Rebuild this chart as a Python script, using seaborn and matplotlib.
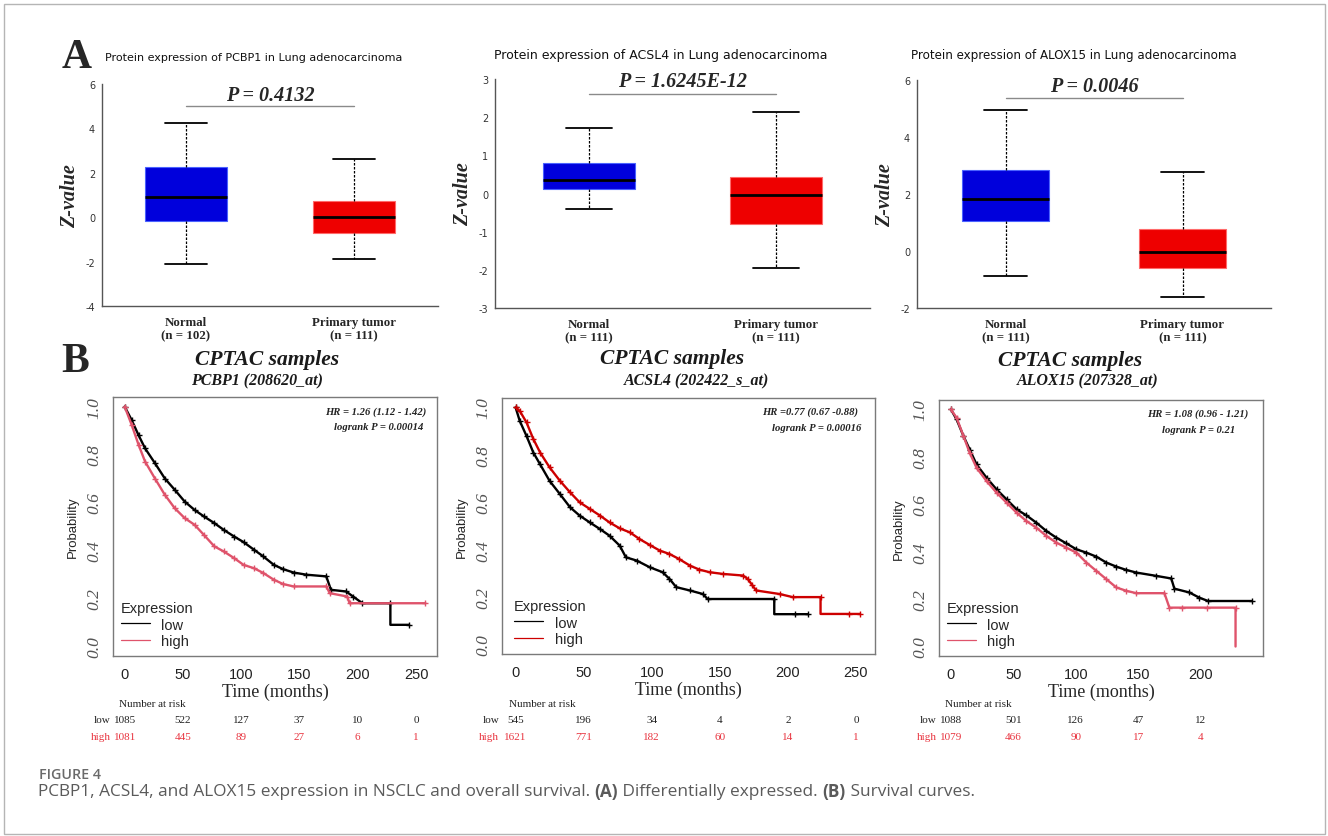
import matplotlib
matplotlib.use("Agg")
import matplotlib.pyplot as plt
import matplotlib.transforms as mtransforms
from matplotlib.lines import Line2D
from matplotlib.patches import Rectangle
import seaborn as sns
import pandas as pd

# ---- data: protein expression box summaries (min, q1, median, q3, max) ----
genes = ["PCBP1", "ACSL4", "ALOX15"]
normal_n = [102, 111, 111]
tumor_n = [111, 111, 111]
pcbp1_normal = [-2.1, -0.16, 0.93, 2.28, 4.25]
pcbp1_tumor = [-1.9, -0.70, 0.0, 0.72, 2.63]
acsl4_normal = [-0.41, 0.11, 0.36, 0.79, 1.71]
acsl4_tumor = [-1.94, -0.79, -0.03, 0.43, 2.13]
alox15_normal = [-0.89, 1.07, 1.83, 2.84, 4.94]
alox15_tumor = [-1.62, -0.58, -0.04, 0.76, 2.78]
p_values = ["P = 0.4132", "P = 1.6245E-12", "P = 0.0046"]

# ---- data: Kaplan-Meier curves ----
probes = ["PCBP1 (208620_at)", "ACSL4 (202422_s_at)", "ALOX15 (207328_at)"]
hr_text = ["HR = 1.26 (1.12 - 1.42)", "HR =0.77 (0.67 -0.88)", "HR = 1.08 (0.96 - 1.21)"]
logrank_text = ["logrank P = 0.00014", "logrank P = 0.00016", "logrank P = 0.21"]

pcbp1_low_t = [0, 6, 12, 17.5, 26, 34.5, 43, 51.5, 60, 68, 77, 85, 94, 102, 111, 119, 128, 136, 145, 156,
               173, 177, 190, 196, 204, 228, 228, 244]
pcbp1_low_s = [1.0, 0.944, 0.88, 0.826, 0.764, 0.70, 0.653, 0.604, 0.569, 0.542, 0.514, 0.486, 0.458, 0.435,
               0.403, 0.375, 0.34, 0.322, 0.308, 0.299, 0.292, 0.236, 0.229, 0.208, 0.18, 0.18, 0.09, 0.09]
pcbp1_high_t = [0, 6, 12, 17.5, 26, 34.5, 43, 51.5, 60, 68, 77, 85, 94, 102, 111, 119, 128, 136, 145, 173,
                176, 191, 193, 258]
pcbp1_high_s = [1.0, 0.924, 0.84, 0.771, 0.70, 0.632, 0.576, 0.535, 0.507, 0.465, 0.417, 0.396, 0.368, 0.34,
                0.326, 0.306, 0.278, 0.26, 0.25, 0.25, 0.222, 0.208, 0.18, 0.18]

acsl4_low_t = [0, 3, 8, 13, 18, 25, 32.5, 40, 47, 54.5, 62, 69, 76.5, 81, 89, 98.5, 108, 113, 118, 128,
               137.6, 141, 190, 190, 205, 214.5]
acsl4_low_s = [1.0, 0.944, 0.88, 0.81, 0.76, 0.69, 0.635, 0.579, 0.544, 0.515, 0.487, 0.459, 0.417, 0.368,
               0.354, 0.326, 0.305, 0.277, 0.242, 0.228, 0.213, 0.192, 0.192, 0.128, 0.128, 0.128]
acsl4_high_t = [0, 3, 8, 13, 18, 25, 32.5, 40, 47, 54.5, 62, 69, 76.5, 84, 91, 98.5, 106, 113, 120, 128,
                135, 142.5, 152, 167, 170.5, 174, 176.7, 194, 203.5, 224, 224, 245, 253]
acsl4_high_s = [1.0, 0.986, 0.937, 0.867, 0.81, 0.747, 0.691, 0.642, 0.60, 0.572, 0.544, 0.515, 0.49, 0.473,
                0.445, 0.42, 0.396, 0.382, 0.361, 0.333, 0.316, 0.305, 0.298, 0.291, 0.277, 0.249, 0.228,
                0.213, 0.2, 0.2, 0.129, 0.129, 0.129]

alox15_low_t = [0, 4.5, 10, 15, 20.5, 28.5, 36.5, 44.5, 52.5, 60.5, 68.5, 76.5, 84.5, 92.5, 100.5, 108.5,
                116.5, 124.5, 132.5, 140.5, 148.5, 164.5, 176.5, 179, 191, 199, 206, 241]
alox15_low_s = [1.0, 0.958, 0.888, 0.831, 0.768, 0.712, 0.663, 0.621, 0.579, 0.553, 0.522, 0.487, 0.459,
                0.435, 0.41, 0.396, 0.379, 0.354, 0.337, 0.323, 0.312, 0.298, 0.287, 0.244, 0.228, 0.206,
                0.192, 0.192]
alox15_high_t = [0, 4.5, 10, 15, 20.5, 28.5, 36.5, 44.5, 52.5, 60.5, 68.5, 76.5, 84.5, 92.5, 100.5, 108.5,
                 116.5, 124.5, 132.5, 140.5, 148.5, 171, 175, 185, 205, 228, 228]
alox15_high_s = [1.0, 0.965, 0.888, 0.817, 0.754, 0.698, 0.649, 0.607, 0.565, 0.529, 0.501, 0.466, 0.438,
                 0.417, 0.396, 0.354, 0.319, 0.284, 0.249, 0.235, 0.225, 0.225, 0.164, 0.164, 0.164, 0.164, 0.0]

# number at risk
risk_times = [[0, 50, 100, 150, 200, 250], [0, 50, 100, 150, 200, 250], [0, 50, 100, 150, 200]]
risk_low = [[1085, 522, 127, 37, 10, 0], [545, 196, 34, 4, 2, 0], [1088, 501, 126, 47, 12]]
risk_high = [[1081, 445, 89, 27, 6, 1], [1621, 771, 182, 60, 14, 1], [1079, 466, 90, 17, 4]]

caption_parts = [("PCBP1, ACSL4, and ALOX15 expression in NSCLC and overall survival. ", False),
                 ("(A)", True), (" Differentially expressed. ", False), ("(B)", True),
                 (" Survival curves.", False)]

# ---- style ----
sns.set_theme(style="white")
plt.rcParams["font.family"] = ["DejaVu Sans"]
SERIF = "Liberation Serif"
SANS = "Liberation Sans"
BLUE = "#0000dc"
RED = "#ee0000"

W, H = 1328, 837
fig = plt.figure(figsize=(W / 100, H / 100), dpi=100)
fig.patch.set_facecolor("white")


def px_axes(x0, y0, x1, y1):
    return fig.add_axes([x0 / W, 1 - y1 / H, (x1 - x0) / W, (y1 - y0) / H])


def box_panel(ax, normal, tumor, n_norm, n_tum, ylim, yticks, ptxt, pline_y, ptxt_y):
    stats = [dict(whislo=normal[0], q1=normal[1], med=normal[2], q3=normal[3], whishi=normal[4], fliers=[]),
             dict(whislo=tumor[0], q1=tumor[1], med=tumor[2], q3=tumor[3], whishi=tumor[4], fliers=[])]
    res = ax.bxp(stats, positions=[0, 1], widths=0.49, capwidths=0.245, patch_artist=True,
                 showfliers=False,
                 whiskerprops=dict(color="black", lw=0.9, linestyle=(0, (2, 1.2))),
                 capprops=dict(color="black", lw=1.3),
                 medianprops=dict(color="black", lw=2))
    for patch, fc, ec in zip(res["boxes"], [BLUE, RED], ["#4a62ff", "#ff6a6a"]):
        patch.set_facecolor(fc)
        patch.set_edgecolor(ec)
        patch.set_linewidth(0.8)
    ax.set_xlim(-0.5, 1.5)
    ax.set_ylim(*ylim)
    ax.set_yticks(yticks)
    ax.set_yticklabels([str(v) for v in yticks])
    ax.set_xticks([0, 1])
    ax.set_xticklabels([f"Normal\n(n = {n_norm})", f"Primary tumor\n(n = {n_tum})"],
                       fontfamily=SERIF, fontweight="bold", fontsize=9.3)
    ax.set_xticks([-0.5, 0.5, 1.5], minor=True)
    ax.tick_params(axis="x", which="major", length=0, pad=7)
    ax.tick_params(axis="x", which="minor", length=4, width=1.2, color="#a8c2e4")
    ax.tick_params(axis="y", length=3, width=0.8, color="#555555", labelsize=7, labelcolor="#333333", pad=2)
    for side in ["top", "right"]:
        ax.spines[side].set_visible(False)
    for side in ["left", "bottom"]:
        ax.spines[side].set_color("#555555")
        ax.spines[side].set_linewidth(1.0)
    ax.set_ylabel("Z-value", fontfamily=SERIF, fontweight="bold", fontstyle="italic", fontsize=14.5,
                  labelpad=4)
    ax.plot([0, 1], [pline_y, pline_y], color="#8a8a8a", lw=1.0)
    ax.text(0.5, ptxt_y, ptxt, ha="center", va="center", fontfamily=SERIF, fontweight="bold",
            fontstyle="italic", fontsize=14.5)
    ax.set_facecolor("white")


def km_panel(ax, low_t, low_s, high_t, high_s, high_color, xlim, xticks, hr, lr, hr_x, lr_x,
             leg_x, rt, rl, rh):
    for t, s, c in [(low_t, low_s, "black"), (high_t, high_s, high_color)]:
        df = pd.DataFrame({"time": t, "surv": s})
        keep = [i for i in range(len(t)) if not (i > 0 and t[i] == t[i - 1])]
        sns.lineplot(data=df, x="time", y="surv", ax=ax, color=c, estimator=None, sort=False, lw=1.7,
                     marker="+", markersize=5, markeredgewidth=1.0, markeredgecolor=c, markevery=keep)
    ax.set_xlim(*xlim)
    ax.set_ylim(-0.04, 1.04)
    ax.set_xticks(xticks)
    ax.set_xticklabels([str(v) for v in xticks], fontfamily=SANS, fontsize=10.5, color="#222222")
    ax.set_yticks([0, 0.2, 0.4, 0.6, 0.8, 1.0])
    ax.set_yticklabels(["0.0", "0.2", "0.4", "0.6", "0.8", "1.0"], fontfamily=SERIF, fontstyle="italic",
                       fontsize=12.5, color="#555555", rotation=90, va="center")
    ax.tick_params(axis="both", length=5, width=0.9, color="#777777", direction="out")
    ax.tick_params(axis="x", pad=3)
    ax.tick_params(axis="y", pad=3)
    for sp in ax.spines.values():
        sp.set_visible(True)
        sp.set_color("#7a7a7a")
        sp.set_linewidth(1.0)
    ax.set_xlabel("Time (months)", fontfamily=SERIF, fontsize=13, labelpad=1)
    ax.set_ylabel("Probability", fontfamily=SANS, fontsize=9.5, labelpad=5)
    ax.text(hr_x, 0.947, hr, transform=ax.transAxes, ha="center", va="center", fontfamily=SERIF,
            fontweight="bold", fontstyle="italic", fontsize=7.7, color="#222222")
    ax.text(lr_x, 0.886, lr, transform=ax.transAxes, ha="center", va="center", fontfamily=SERIF,
            fontweight="bold", fontstyle="italic", fontsize=7.7, color="#222222")
    handles = [Line2D([], [], color="black", lw=0.9), Line2D([], [], color=high_color, lw=0.9)]
    leg = ax.legend(handles, ["low", "high"], title="Expression", loc="lower left",
                    bbox_to_anchor=(leg_x, 0.015), frameon=False, title_fontsize=10.5,
                    handlelength=2.0, handletextpad=0.8, labelspacing=0.15, borderpad=0.3,
                    borderaxespad=0.0, prop={"family": SANS, "size": 10.5})
    leg.get_title().set_fontfamily(SANS)
    leg._legend_box.align = "left"
    # number at risk table
    bt = mtransforms.blended_transform_factory(ax.transData, fig.transFigure)
    ba = mtransforms.blended_transform_factory(ax.transAxes, fig.transFigure)
    ax.text(0.02, 1 - 705 / H, "Number at risk", transform=ba, ha="left", va="center", fontfamily=SERIF,
            fontsize=8, color="#222222", clip_on=False)
    for y, name, vals, col in [(721, "low", rl, "#222222"), (738, "high", rh, "#e8333e")]:
        ax.text(-0.008, 1 - y / H, name, transform=ba, ha="right", va="center", fontfamily=SERIF,
                fontsize=8, color=col, clip_on=False)
        for tx, v in zip(rt, vals):
            ax.text(tx, 1 - y / H, str(v), transform=bt, ha="center", va="center", fontfamily=SERIF,
                    fontsize=8, color=col, clip_on=False)


# ---- panel A ----
axA1 = px_axes(102, 85, 438, 307)
box_panel(axA1, pcbp1_normal, pcbp1_tumor, normal_n[0], tumor_n[0], (-4, 6), [-4, -2, 0, 2, 4, 6],
          p_values[0], 5.03, 5.5)
axA2 = px_axes(495, 80, 870, 309)
box_panel(axA2, acsl4_normal, acsl4_tumor, normal_n[1], tumor_n[1], (-3, 3), [-3, -2, -1, 0, 1, 2, 3],
          p_values[1], 2.62, 2.95)
axA3 = px_axes(917, 81, 1271, 309)
box_panel(axA3, alox15_normal, alox15_tumor, normal_n[2], tumor_n[2], (-2, 6), [-2, 0, 2, 4, 6],
          p_values[2], 5.38, 5.79)

for cx, cy, g, fs in [(254, 58, genes[0], 8.0), (661, 55, genes[1], 9.0), (1074, 55, genes[2], 8.6)]:
    fig.text(cx / W, 1 - cy / H, f"Protein expression of {g} in Lung adenocarcinoma", ha="center",
             va="center", fontsize=fs, color="#111111", family="DejaVu Sans")

# ---- panel B ----
axB1 = px_axes(113, 398, 437, 657)
km_panel(axB1, pcbp1_low_t, pcbp1_low_s, pcbp1_high_t, pcbp1_high_s, "#df536b", (-10, 268),
         [0, 50, 100, 150, 200, 250], hr_text[0], logrank_text[0], 0.81, 0.82, 0.01,
         risk_times[0], risk_low[0], risk_high[0])
axB2 = px_axes(502, 399, 875, 655)
km_panel(axB2, acsl4_low_t, acsl4_low_s, acsl4_high_t, acsl4_high_s, "#cd0000", (-10, 264),
         [0, 50, 100, 150, 200, 250], hr_text[1], logrank_text[1], 0.826, 0.845, 0.02,
         risk_times[1], risk_low[1], risk_high[1])
axB3 = px_axes(939, 401, 1263, 657)
km_panel(axB3, alox15_low_t, alox15_low_s, alox15_high_t, alox15_high_s, "#df536b", (-9.6, 250),
         [0, 50, 100, 150, 200], hr_text[2], logrank_text[2], 0.80, 0.80, 0.01,
         risk_times[2], risk_low[2], risk_high[2])

for (cx, cy), (sx, sy), pr in zip([(267, 360), (672, 359), (1070, 361)],
                                  [(257, 381), (697, 381), (1088, 381)], probes):
    fig.text(cx / W, 1 - cy / H, "CPTAC samples", ha="center", va="center", family=SERIF,
             fontweight="bold", fontstyle="italic", fontsize=15.5, color="#1a1a1a")
    fig.text(sx / W, 1 - sy / H, pr, ha="center", va="center", family=SERIF,
             fontweight="bold", fontstyle="italic", fontsize=11.5, color="#1a1a1a")

# panel letters
fig.text(77 / W, 1 - 58 / H, "A", ha="center", va="center", family=SERIF, fontweight="bold", fontsize=30)
fig.text(75 / W, 1 - 362 / H, "B", ha="center", va="center", family=SERIF, fontweight="bold", fontsize=30)

# caption
fig.text(39 / W, 1 - 775 / H, "FIGURE 4", ha="left", va="center", family="Open Sans", fontweight="semibold",
         fontsize=10.3, color="#6a6a6a")
renderer = fig.canvas.get_renderer()
x = 38
for txt, bold in caption_parts:
    t = fig.text(x / W, 1 - 792 / H, txt, ha="left", va="center", family="Open Sans",
                 fontweight="bold" if bold else "normal", fontsize=12.4, color="#5a5a5a")
    x += t.get_window_extent(renderer).width

# outer frame
fig.patches.append(Rectangle((4 / W, 1 - 835 / H), 1321 / W, 830 / H, transform=fig.transFigure,
                             fill=False, edgecolor="#b5b5b5", lw=1.0))

fig.savefig("out.png", dpi=100)
